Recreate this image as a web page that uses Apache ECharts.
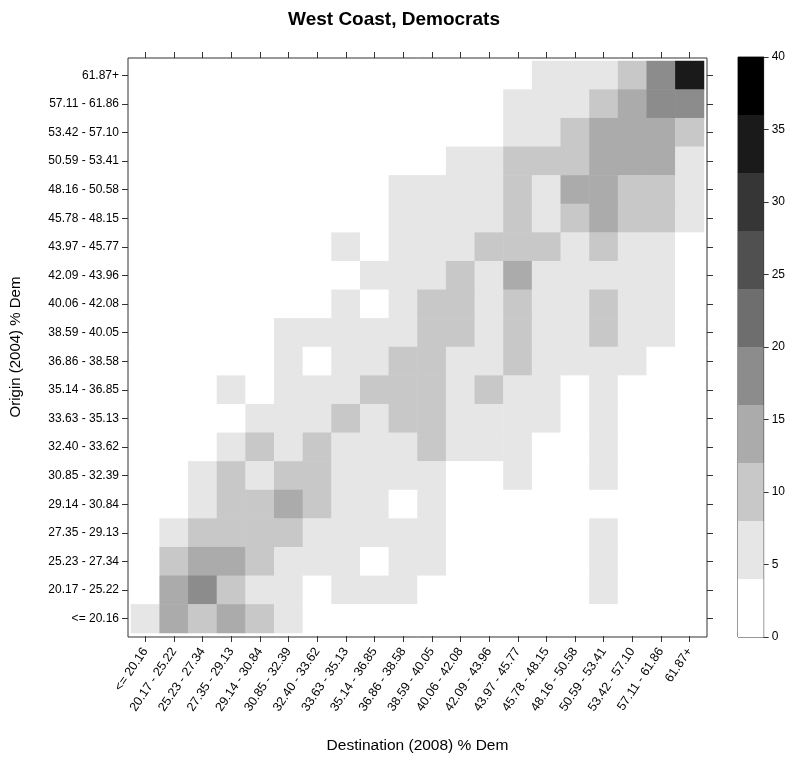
<!DOCTYPE html>
<html>
<head>
<meta charset="utf-8">
<script src="https://cdn.jsdelivr.net/npm/echarts@6/dist/echarts.min.js"></script>
<style>html,body{margin:0;padding:0;background:#fff;}#c{width:788px;height:759px;}</style>
</head>
<body>
<div id="c"></div>
<script>
// Bin labels (bottom-to-top for y, left-to-right for x)
const bins = ['<= 20.16','20.17 - 25.22','25.23 - 27.34','27.35 - 29.13','29.14 - 30.84','30.85 - 32.39','32.40 - 33.62','33.63 - 35.13','35.14 - 36.85','36.86 - 38.58','38.59 - 40.05','40.06 - 42.08','42.09 - 43.96','43.97 - 45.77','45.78 - 48.15','48.16 - 50.58','50.59 - 53.41','53.42 - 57.10','57.11 - 61.86','61.87+'];

// Estimated cell values, rows listed from top (61.87+) to bottom (<= 20.16)
const row_61_87 = [0,0,0,0,0,0,0,0,0,0,0,0,0,0,6,6,6,10,18,34];
const row_57_11 = [0,0,0,0,0,0,0,0,0,0,0,0,0,6,6,6,10,14,18,18];
const row_53_42 = [0,0,0,0,0,0,0,0,0,0,0,0,0,6,6,10,14,14,14,10];
const row_50_59 = [0,0,0,0,0,0,0,0,0,0,0,6,6,10,10,10,14,14,14,6];
const row_48_16 = [0,0,0,0,0,0,0,0,0,6,6,6,6,10,6,14,14,10,10,6];
const row_45_78 = [0,0,0,0,0,0,0,0,0,6,6,6,6,10,6,10,14,10,10,6];
const row_43_97 = [0,0,0,0,0,0,0,6,0,6,6,6,10,10,10,6,10,6,6,0];
const row_42_09 = [0,0,0,0,0,0,0,0,6,6,6,10,6,14,6,6,6,6,6,0];
const row_40_06 = [0,0,0,0,0,0,0,6,0,6,10,10,6,10,6,6,10,6,6,0];
const row_38_59 = [0,0,0,0,0,6,6,6,6,6,10,10,6,10,6,6,10,6,6,0];
const row_36_86 = [0,0,0,0,0,6,0,6,6,10,10,6,6,10,6,6,6,6,0,0];
const row_35_14 = [0,0,0,6,0,6,6,6,10,10,10,6,10,6,6,0,6,0,0,0];
const row_33_63 = [0,0,0,0,6,6,6,10,6,10,10,6,6,6,6,0,6,0,0,0];
const row_32_40 = [0,0,0,6,10,6,10,6,6,6,10,6,6,6,0,0,6,0,0,0];
const row_30_85 = [0,0,6,10,6,10,10,6,6,6,6,0,0,6,0,0,6,0,0,0];
const row_29_14 = [0,0,6,10,10,14,10,6,6,0,6,0,0,0,0,0,0,0,0,0];
const row_27_35 = [0,6,10,10,10,10,6,6,6,6,6,0,0,0,0,0,6,0,0,0];
const row_25_23 = [0,10,14,14,10,6,6,6,0,6,6,0,0,0,0,0,6,0,0,0];
const row_20_17 = [0,14,18,10,6,6,0,6,6,6,0,0,0,0,0,0,6,0,0,0];
const row_le_20 = [6,14,10,14,10,6,0,0,0,0,0,0,0,0,0,0,0,0,0,0];

const rowsTopDown = [row_61_87,row_57_11,row_53_42,row_50_59,row_48_16,row_45_78,row_43_97,row_42_09,row_40_06,row_38_59,row_36_86,row_35_14,row_33_63,row_32_40,row_30_85,row_29_14,row_27_35,row_25_23,row_20_17,row_le_20];

// Color key
const breaks = [0,4,8,12,16,20,24,28,32,36,40];
const colors = ['#ffffff','#e6e6e6','#c8c8c8','#ababab','#8c8c8c','#6e6e6e','#505050','#363636','#1a1a1a','#000000'];
const keyTicks = [0,5,10,15,20,25,30,35,40];

const data = [];
rowsTopDown.forEach((row, r) => {
  const yi = bins.length - 1 - r;
  row.forEach((v, xi) => data.push([xi, yi, v]));
});

const pieces = colors.map((c, i) => ({gte: breaks[i], lt: breaks[i+1], color: c}));

const font = 'Liberation Sans, Arial, sans-serif';
const lineCol = '#333';
const series = [{
  type: 'heatmap', xAxisIndex: 0, yAxisIndex: 0, data: data,
  itemStyle: {borderWidth: 0}, emphasis: {disabled: true}, silent: true
}];
colors.forEach((c, i) => {
  series.push({
    type: 'bar', xAxisIndex: 2, yAxisIndex: 2, stack: 'key',
    data: [breaks[i+1] - breaks[i]], barWidth: '100%',
    itemStyle: {color: c}, silent: true, animation: false
  });
});

const tickCommon = {show: true, alignWithLabel: true, length: 6, interval: 0, lineStyle: {color: lineCol}};
const PAD = 3;

const chart = echarts.init(document.getElementById('c'), null, {renderer: 'canvas'});
chart.setOption({
  animation: false,
  backgroundColor: '#fff',
  title: {text: 'West Coast, Democrats', left: 'center', top: 5,
    textStyle: {fontFamily: font, fontSize: 19, fontWeight: 'bold', color: '#000'}},
  grid: [
    {left: 131, top: 61, width: 573, height: 573, show: false},
    {left: 738, top: 57, width: 29, height: 580, show: true, borderColor: lineCol, borderWidth: 1, backgroundColor: 'transparent'},
    {left: 131 - PAD, top: 61 - PAD, width: 573 + 2 * PAD, height: 573 + 2 * PAD, show: true, borderColor: lineCol, borderWidth: 1, backgroundColor: 'transparent'}
  ],
  xAxis: [
    {type: 'category', gridIndex: 0, data: bins, position: 'bottom', offset: PAD,
      name: 'Destination (2008) % Dem', nameLocation: 'middle', nameGap: 102,
      nameTextStyle: {fontFamily: font, fontSize: 15.5, color: '#000'},
      axisLine: {show: false},
      axisTick: tickCommon,
      axisLabel: {rotate: 56, fontFamily: font, fontSize: 12.5, color: '#000', interval: 0, margin: 13},
      splitLine: {show: false}},
    {type: 'category', gridIndex: 0, data: bins, position: 'top', offset: PAD,
      axisLine: {show: false}, axisTick: tickCommon,
      axisLabel: {show: false}, splitLine: {show: false}},
    {type: 'category', gridIndex: 1, data: ['key'], show: false}
  ],
  yAxis: [
    {type: 'category', gridIndex: 0, data: bins, position: 'left', offset: PAD,
      name: 'Origin (2004) % Dem', nameLocation: 'middle', nameGap: 105,
      nameTextStyle: {fontFamily: font, fontSize: 15, color: '#000'},
      axisLine: {show: false}, axisTick: tickCommon,
      axisLabel: {fontFamily: font, fontSize: 12, color: '#000', interval: 0, margin: 9},
      splitLine: {show: false}},
    {type: 'category', gridIndex: 0, data: bins, position: 'right', offset: PAD,
      axisLine: {show: false}, axisTick: tickCommon,
      axisLabel: {show: false}, splitLine: {show: false}},
    {type: 'value', gridIndex: 1, min: keyTicks[0], max: keyTicks[keyTicks.length-1], interval: 5, position: 'right',
      axisLine: {show: true, lineStyle: {color: lineCol}},
      axisTick: {show: true, length: 5, lineStyle: {color: lineCol}},
      axisLabel: {fontFamily: font, fontSize: 12, color: '#000', margin: 8},
      splitLine: {show: false}}
  ],
  visualMap: {type: 'piecewise', show: false, seriesIndex: 0, dimension: 2, pieces: pieces},
  series: series
});
</script>
</body>
</html>
